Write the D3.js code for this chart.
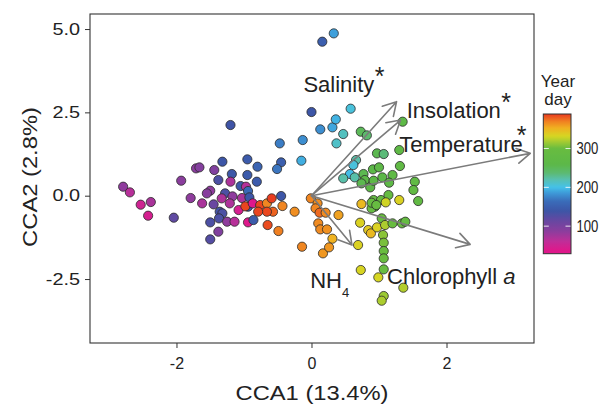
<!DOCTYPE html>
<html>
<head>
<meta charset="utf-8">
<script src="https://cdn.jsdelivr.net/npm/d3@7"></script>
<style>
  html, body { margin: 0; padding: 0; background: #fff; }
  svg { display: block; font-family: "Liberation Sans", Arial, sans-serif; }
</style>
</head>
<body>
<svg id="chart" width="610" height="405"></svg>
<script>
// site scores: [CCA1, CCA2, year day]
const sites = [
  [-2.79, 0.27, 85], [-2.69, 0.10, 65], [-2.53, -0.27, 50], [-2.38, -0.19, 72],
  [-2.42, -0.60, 45], [-2.04, -0.66, 118], [-1.93, 0.45, 88], [-1.79, -0.07, 85],
  [-1.71, 0.82, 88], [-1.66, 0.85, 92], [-1.62, -0.23, 72], [-1.50, 0.15, 85],
  [-1.55, 0.07, 90], [-1.44, 0.77, 95], [-1.38, 0.47, 130], [-1.45, -0.26, 112],
  [-1.50, -0.80, 130], [-1.50, -1.31, 125], [-1.38, -1.08, 95], [-1.32, 1.02, 140],
  [-1.20, 2.12, 138], [-1.18, 0.65, 142], [-1.20, 0.42, 70], [-1.05, 0.29, 142],
  [-0.97, 0.27, 65], [-0.95, 1.09, 145], [-0.80, 0.87, 155], [-0.81, 0.42, 145],
  [-0.95, 0.62, 145], [-0.94, 0.14, 160], [-1.28, 0.07, 130], [-1.33, -0.08, 70],
  [-1.17, -0.02, 85], [-1.03, -0.07, 72], [-1.21, -0.23, 70], [-1.08, -0.43, 45],
  [-0.92, -0.05, 140], [-0.94, -0.33, 140], [-0.98, -0.32, 386], [-0.87, -0.23, 35],
  [-0.76, -0.28, 386], [-0.66, -0.23, 368], [-0.59, -0.08, 388], [-0.45, -0.01, 140],
  [-0.43, -0.31, 368], [-0.57, -0.48, 378], [-0.66, -0.48, 385], [-0.79, -0.48, 386],
  [-1.36, -0.48, 135], [-1.32, -0.53, 130], [-1.37, -0.68, 130], [-1.25, -0.78, 85],
  [-1.14, -0.78, 65], [-0.94, -0.80, 35], [-0.86, -0.73, 145], [-0.65, -0.88, 384],
  [-0.49, -1.06, 370], [-0.25, -0.48, 365], [-0.45, 1.00, 150], [-0.51, 0.80, 168],
  [-0.47, 1.57, 172], [-0.13, 1.67, 180], [-0.15, 1.05, 193],
  [0.16, 4.62, 150], [0.33, 4.87, 188], [0.00, 2.51, 140], [0.58, 2.61, 205],
  [0.13, 1.99, 180], [0.31, 2.05, 190], [0.36, 2.29, 195], [0.47, 1.85, 215],
  [0.37, 1.57, 212], [0.73, 1.92, 250], [0.82, 1.81, 240], [1.35, 2.22, 265],
  [0.97, 1.27, 255], [1.07, 1.25, 235], [1.30, 1.37, 270], [0.66, 1.07, 222],
  [0.62, 0.92, 205], [0.57, 0.65, 198], [0.47, 0.52, 222], [0.64, 0.55, 222],
  [0.77, 0.65, 255], [0.91, 0.79, 260], [1.00, 0.85, 265], [0.79, 0.47, 260],
  [0.87, 0.25, 262], [0.92, 0.45, 262], [1.05, 0.55, 260], [1.20, 0.62, 270],
  [1.31, 0.89, 275], [1.15, 0.39, 265], [1.53, 0.42, 275], [1.51, 0.17, 280],
  [0.74, -0.25, 348], [0.92, -0.13, 285], [1.03, -0.13, 290], [1.14, 0.02, 290],
  [1.10, -0.20, 330], [1.30, -0.13, 335], [1.58, -0.16, 280], [0.74, 0.37, 255],
  [0.94, -0.33, 295], [0.89, -0.38, 292], [1.04, -0.68, 300],
  [-0.01, -0.08, 368], [0.09, -0.23, 365], [0.06, -0.38, 368], [0.12, -0.51, 376],
  [0.21, -0.51, 366], [0.40, -0.58, 358], [0.10, -0.83, 366], [0.13, -1.01, 366],
  [0.23, -1.01, 364], [0.31, -1.29, 352], [-0.14, -1.53, 368], [0.17, -1.73, 362],
  [0.26, -1.55, 362],
  [0.72, -0.81, 335], [0.84, -1.03, 340], [0.88, -1.13, 348], [0.97, -0.95, 335],
  [1.09, -0.88, 320], [1.20, -0.83, 300], [1.34, -0.83, 295], [1.39, -0.78, 290],
  [1.06, -1.18, 310], [1.07, -1.41, 305], [1.07, -1.66, 300], [1.07, -1.88, 300],
  [0.69, -1.48, 335], [0.73, -2.23, 333], [1.07, -2.21, 300], [0.99, -2.45, 332],
  [1.36, -2.76, 322], [1.07, -3.01, 315], [1.04, -3.15, 320], [0.89, -0.21, 295],
  [0.96, -0.28, 295]
]

// environmental vectors (biplot arrows)
const envVars = ['Salinity', 'Insolation', 'Temperature', 'Chlorophyll a', 'NH4']
const arrowX = [1.26, 1.32, 3.24, 2.35, 0.60]
const arrowY = [2.82, 2.27, 1.27, -1.46, -1.48]
const significant = [true, true, true, false, false]
// where the labels sit, in axis units
const labelX = [-0.12, 1.41, 1.30, 1.12, -0.02]
const labelY = [3.10, 2.32, 1.32, -2.66, -2.76]

const xTicks = [-2, 0, 2]
const yTicks = [-2.5, 0, 2.5, 5]
const dayTicks = [100, 200, 300]

// colour ramp of the year-day legend
const dayStops = [29, 40, 61, 87, 113, 139, 164, 186, 200, 220, 237, 259, 300, 319, 332, 353, 371, 389]
const dayColors = ['#e0168a', '#dc1a8c', '#bf2e98', '#8b3d9d', '#6847a1', '#3d55a6', '#3a6cb9', '#3e9bd9',
  '#44c1e9', '#58c0b0', '#5cba72', '#5cb848', '#68bc40', '#a9cc30', '#d6d622', '#f0b021', '#f07d21', '#e9391f']

const svg = d3.select('#chart')
const W = 610, H = 405
const panel = {left: 90, right: 534, top: 14, bottom: 343}

const x = d3.scaleLinear().domain([-3.281, 3.296]).range([panel.left, panel.right])
const y = d3.scaleLinear().domain([-4.419, 5.451]).range([panel.bottom, panel.top])
const dayColor = d3.scaleLinear().domain(dayStops).range(dayColors).interpolate(d3.interpolateRgb)

const textColor = '#222'
const lineColor = '#333'

svg.append('rect').attr('width', W).attr('height', H).attr('fill', '#fff')

// stretch text to match the wider lettering of the original
function stretch(sel, k) {
  sel.each(function () {
    const len = this.getComputedTextLength()
    d3.select(this).attr('textLength', len * k).attr('lengthAdjust', 'spacingAndGlyphs')
  })
}

// axes
const xAxis = svg.append('g')
  .attr('transform', `translate(0,${panel.bottom})`)
  .call(d3.axisBottom(x).tickValues(xTicks).tickSize(5).tickFormat(d => String(d)))
xAxis.select('.domain').remove()
xAxis.selectAll('.tick line').attr('stroke', lineColor)
xAxis.selectAll('.tick text')
  .attr('y', 26.3).attr('dy', null)
  .attr('fill', textColor).attr('font-size', 16).attr('font-family', null)

const yAxis = svg.append('g')
  .attr('transform', `translate(${panel.left},0)`)
  .call(d3.axisLeft(y).tickValues(yTicks).tickSize(5).tickPadding(5).tickFormat(d => d.toFixed(1)))
yAxis.select('.domain').remove()
yAxis.selectAll('.tick line').attr('stroke', lineColor)
yAxis.selectAll('.tick text')
  .attr('fill', textColor).attr('font-size', 16).attr('font-family', null)
  .call(stretch, 1.24)

svg.append('text')
  .attr('x', (panel.left + panel.right) / 2).attr('y', 400)
  .attr('text-anchor', 'middle').attr('font-size', 21).attr('fill', textColor)
  .text('CCA1 (13.4%)')
  .call(stretch, 1.13)

svg.append('text')
  .attr('transform', `translate(36.5,${(panel.top + panel.bottom) / 2 - 1.5}) rotate(-90)`)
  .attr('text-anchor', 'middle').attr('font-size', 21).attr('fill', textColor)
  .text('CCA2 (2.8%)')
  .call(stretch, 1.13)

// site points
svg.append('g')
  .selectAll('circle')
  .data(sites)
  .join('circle')
  .attr('cx', d => x(d[0]))
  .attr('cy', d => y(d[1]))
  .attr('r', 4.6)
  .attr('fill', d => dayColor(d[2]))
  .attr('stroke', '#2a2a2a')
  .attr('stroke-width', 0.8)

// arrows
const arrows = envVars.map((v, i) => ({
  v, x: arrowX[i], y: arrowY[i], lx: labelX[i], ly: labelY[i], sig: significant[i]
}))
const headLen = 15
const headAngle = Math.PI / 6
const arrowG = svg.append('g')
  .attr('stroke', '#7b7b7b').attr('stroke-width', 1.6)
  .attr('fill', 'none').attr('stroke-linecap', 'round').attr('stroke-linejoin', 'round')

arrows.forEach(a => {
  const x0 = x(0), y0 = y(0), x1 = x(a.x), y1 = y(a.y)
  const ang = Math.atan2(y1 - y0, x1 - x0)
  const p = d3.path()
  p.moveTo(x0, y0)
  p.lineTo(x1, y1)
  p.moveTo(x1 - headLen * Math.cos(ang - headAngle), y1 - headLen * Math.sin(ang - headAngle))
  p.lineTo(x1, y1)
  p.lineTo(x1 - headLen * Math.cos(ang + headAngle), y1 - headLen * Math.sin(ang + headAngle))
  arrowG.append('path').attr('d', p.toString())
})

// arrow labels
arrows.forEach(a => {
  const t = svg.append('text')
    .attr('x', x(a.lx)).attr('y', y(a.ly))
    .attr('font-size', 22).attr('fill', textColor)
  if (a.v === 'NH4') {
    t.append('tspan').text('NH')
    t.append('tspan').attr('font-size', 13).attr('dy', 9).text('4')
  } else if (a.v === 'Chlorophyll a') {
    t.append('tspan').text('Chlorophyll ')
    t.append('tspan').attr('font-style', 'italic').text('a')
  } else {
    t.append('tspan').text(a.v)
  }
  if (a.sig) {
    t.append('tspan')
      .attr('font-size', 25)
      .attr('dx', a.v === 'Temperature' ? -6 : 0.5)
      .attr('dy', -7.5)
      .text('*')
  }
})

// colour bar legend
const bar = {x: 543.3, w: 27.7, top: 114, bottom: 253.7}
const barScale = d3.scaleLinear().domain([dayStops[0], dayStops[dayStops.length - 1]]).range([bar.bottom, bar.top])

const grad = svg.append('defs').append('linearGradient')
  .attr('id', 'dayGrad').attr('x1', 0).attr('y1', 1).attr('x2', 0).attr('y2', 0)
grad.selectAll('stop')
  .data(d3.range(barScale.domain()[0], barScale.domain()[1] + 1, 4))
  .join('stop')
  .attr('offset', d => (d - barScale.domain()[0]) / (barScale.domain()[1] - barScale.domain()[0]))
  .attr('stop-color', d => dayColor(d))

svg.append('rect')
  .attr('x', bar.x).attr('y', bar.top)
  .attr('width', bar.w).attr('height', bar.bottom - bar.top)
  .attr('fill', 'url(#dayGrad)').attr('stroke', lineColor).attr('stroke-width', 1)

svg.append('g')
  .selectAll('g')
  .data(dayTicks)
  .join('g')
  .each(function (d) {
    const g = d3.select(this)
    const yy = barScale(d)
    g.append('line').attr('x1', bar.x + 0.5).attr('x2', bar.x + 5.5).attr('y1', yy).attr('y2', yy)
      .attr('stroke', '#fff').attr('stroke-width', 1).attr('opacity', 0.85)
    g.append('line').attr('x1', bar.x + bar.w - 5.5).attr('x2', bar.x + bar.w - 0.5).attr('y1', yy).attr('y2', yy)
      .attr('stroke', '#fff').attr('stroke-width', 1).attr('opacity', 0.85)
  })

svg.append('g')
  .attr('transform', `translate(${bar.x + bar.w},0)`)
  .call(d3.axisRight(barScale).tickValues(dayTicks).tickSize(0).tickPadding(5.5))
  .call(g => g.select('.domain').remove())
  .selectAll('.tick text')
  .attr('fill', textColor).attr('font-size', 16).attr('font-family', null)
  .call(stretch, 0.82)

svg.append('text')
  .attr('x', 558).attr('y', 86.7)
  .attr('text-anchor', 'middle').attr('font-size', 17).attr('fill', textColor)
  .text('Year')
svg.append('text')
  .attr('x', 558).attr('y', 105)
  .attr('text-anchor', 'middle').attr('font-size', 17).attr('fill', textColor)
  .text('day')

// panel border last so it sits above the marks
svg.append('rect')
  .attr('x', panel.left).attr('y', panel.top)
  .attr('width', panel.right - panel.left).attr('height', panel.bottom - panel.top)
  .attr('fill', 'none').attr('stroke', lineColor).attr('stroke-width', 1.1)
</script>
</body>
</html>
